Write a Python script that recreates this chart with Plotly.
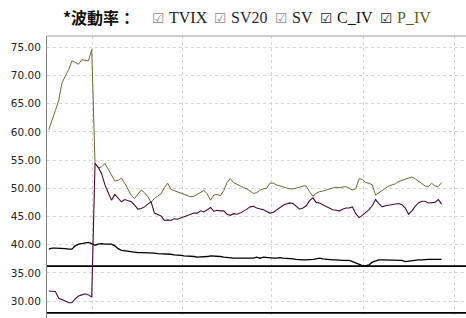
import plotly.graph_objects as go

# ---------------- data ----------------
day = list(range(120))

p_iv = [60.4, 62.0, 63.8, 65.6, 68.7, 69.9, 71.0, 72.6, 72.3, 72.0,
        72.8, 72.7, 72.6, 74.6, 54.4, 53.6, 53.8, 54.4, 53.3, 52.2,
        51.3, 51.4, 51.8, 50.9, 49.9, 48.7, 48.2, 49.0, 49.7, 49.2,
        48.5, 47.5, 48.2, 48.6, 49.0, 50.1, 50.9, 49.8, 49.6, 49.4,
        49.1, 48.9, 48.8, 48.5, 48.6, 48.9, 49.3, 49.6, 49.0, 47.9,
        48.8, 48.9, 48.7, 49.6, 51.0, 51.7, 51.0, 50.7, 50.3, 50.1,
        49.9, 49.5, 49.1, 49.2, 49.7, 49.9, 50.0, 50.9, 50.9, 50.6,
        50.4, 50.3, 50.1, 49.9, 49.9, 50.0, 50.2, 50.4, 50.4, 49.4,
        48.6, 49.1, 49.4, 49.5, 49.7, 49.8, 50.0, 50.2, 50.1, 50.2,
        50.3, 50.0, 49.7, 49.9, 51.7, 51.6, 51.0, 50.9, 50.6, 48.8,
        49.2, 49.6, 50.1, 50.4, 50.6, 50.8, 51.2, 51.4, 51.7, 51.9,
        52.0, 51.7, 51.3, 50.8, 50.4, 50.3, 50.9, 50.4, 50.3, 51.0]

c_iv = [31.8, 31.8, 31.7, 30.5, 30.3, 30.0, 29.7, 29.7, 30.4, 30.9,
        31.1, 31.3, 31.1, 30.7, 54.4, 53.7, 52.6, 50.6, 49.2, 47.9,
        48.9, 48.3, 47.6, 48.0, 47.8, 47.6, 47.0, 46.3, 46.4, 46.7,
        47.2, 47.6, 45.6, 45.3, 45.1, 44.3, 44.4, 44.3, 44.6, 44.5,
        44.7, 44.9, 45.2, 45.4, 45.6, 45.6, 46.0, 45.8, 46.2, 46.6,
        45.9, 46.1, 46.0, 46.0, 45.4, 45.2, 45.5, 45.4, 45.6, 45.9,
        46.3, 46.7, 46.8, 46.5, 46.4, 46.2, 45.9, 45.6, 45.7, 46.1,
        46.5, 47.0, 47.2, 47.4, 47.3, 46.8, 46.3, 46.5, 46.9, 47.8,
        48.3, 47.5, 47.4, 47.1, 46.8, 46.4, 46.2, 46.1, 46.0, 46.3,
        46.5, 46.5, 46.7, 45.5, 44.8, 45.2, 45.7, 46.2, 46.9, 48.0,
        47.3, 46.7, 46.9, 47.0, 47.2, 47.3, 47.3, 47.1, 46.5, 45.4,
        46.0, 46.8, 47.4, 47.7, 47.7, 47.4, 47.4, 47.5, 48.0, 47.2]

sv20 = [39.2, 39.4, 39.4, 39.4, 39.4, 39.3, 39.2, 39.2, 39.8, 40.1,
        40.2, 40.3, 40.4, 40.2, 39.9, 40.1, 40.2, 40.1, 40.1, 40.1,
        39.8, 39.3, 39.0, 38.9, 38.9, 38.8, 38.7, 38.6, 38.6, 38.6,
        38.6, 38.5, 38.5, 38.4, 38.4, 38.3, 38.3, 38.3, 38.2, 38.2,
        38.1, 38.0, 38.0, 37.9, 37.9, 37.8, 37.8, 37.8, 37.9, 38.0,
        38.0, 38.0, 37.9, 37.8, 37.7, 37.6, 37.6, 37.6, 37.6, 37.6,
        37.6, 37.6, 37.6, 37.8, 37.6, 37.8, 37.7, 37.6, 37.6, 37.6,
        37.7, 37.6, 37.6, 37.5, 37.5, 37.4, 37.3, 37.3, 37.3, 37.3,
        37.4, 37.5, 37.6, 37.5, 37.4, 37.4, 37.3, 37.3, 37.2, 37.2,
        37.2, 37.2, 37.0, 36.8, 36.5, 36.3, 36.3, 36.4, 36.9, 37.1,
        37.3, 37.3, 37.3, 37.3, 37.3, 37.3, 37.2, 37.2, 37.0, 37.1,
        37.2, 37.2, 37.3, 37.3, 37.4, 37.4, 37.4, 37.4, 37.4, 37.4]

sv_level = 36.2      # flat black line
tvix_level = 27.9    # flat black line near the bottom

y_ticks = [30, 35, 40, 45, 50, 55, 60, 65, 70, 75]
grid_days = [13.1, 40.4, 67.6, 95.2, 122.8]
x_range = [-0.55, 126.4]
y_range = [27.0, 77.0]

legend_items = ["TVIX", "SV20", "SV", "C_IV", "P_IV"]
legend_label_colors = ["#222222", "#2e2440", "#222222", "#111111", "#5e5e14"]
legend_box_colors = ["#8c8c8c", "#8c8c8c", "#8c8c8c", "#222222", "#222222"]

# ---------------- figure ----------------
W, H = 466, 318
ML, MT = 47, 36
PW, PH = W - ML, H - MT

fig = go.Figure()

fig.add_trace(go.Scatter(x=[x_range[0], x_range[1]], y=[tvix_level, tvix_level],
                         mode="lines", line=dict(color="#000000", width=1.6),
                         showlegend=False, hoverinfo="skip"))
fig.add_trace(go.Scatter(x=[x_range[0], x_range[1]], y=[sv_level, sv_level],
                         mode="lines", line=dict(color="#000000", width=1.6),
                         showlegend=False, hoverinfo="skip"))
fig.add_trace(go.Scatter(x=day, y=sv20, mode="lines",
                         line=dict(color="#000000", width=1.3),
                         showlegend=False))
fig.add_trace(go.Scatter(x=day, y=p_iv, mode="lines",
                         line=dict(color="#6b6b30", width=1.0),
                         showlegend=False))
fig.add_trace(go.Scatter(x=day, y=c_iv, mode="lines",
                         line=dict(color="#4a0a30", width=1.1),
                         showlegend=False))

fig.update_xaxes(range=x_range, showticklabels=False, ticks="",
                 tickmode="array", tickvals=grid_days,
                 showgrid=True, gridcolor="#d4d4d4", griddash="dot", gridwidth=1,
                 zeroline=False, showline=False)
fig.update_yaxes(range=y_range, tickmode="array", tickvals=y_ticks,
                 tickformat=".2f", ticks="", ticklabelstandoff=3,
                 tickfont=dict(family="DejaVu Sans", size=10.5, color="#222222"),
                 showgrid=True, gridcolor="#d4d4d4", griddash="dot", gridwidth=1,
                 zeroline=False, showline=True, linecolor="#808080", linewidth=1)

# top border of the plot
fig.add_shape(type="line", xref="paper", yref="paper", x0=0, x1=1, y0=1, y1=1,
              line=dict(color="#9a9a9a", width=1))


def px_x(px):
    return (px - ML) / PW


def px_y(py):
    return 1 + (MT - py) / PH


ann = []
ann.append(dict(x=px_x(61), y=px_y(17), xref="paper", yref="paper",
                xanchor="left", yanchor="middle", showarrow=False,
                text="<b>*波動率：</b>",
                font=dict(family="Noto Sans CJK TC", size=16, color="#111111")))

box_px = [150, 212, 273, 318, 378]
label_px = [167, 229, 290, 335, 395]
for name, bx, lx, lc, bc in zip(legend_items, box_px, label_px,
                                legend_label_colors, legend_box_colors):
    ann.append(dict(x=px_x(bx), y=px_y(18), xref="paper", yref="paper",
                    xanchor="left", yanchor="middle", showarrow=False,
                    text="☑", font=dict(family="DejaVu Sans", size=14, color=bc)))
    ann.append(dict(x=px_x(lx), y=px_y(17.5), xref="paper", yref="paper",
                    xanchor="left", yanchor="middle", showarrow=False,
                    text=name, font=dict(family="Liberation Serif", size=16, color=lc)))

fig.update_layout(width=W, height=H, margin=dict(l=ML, r=0, t=MT, b=0),
                  paper_bgcolor="white", plot_bgcolor="white",
                  annotations=ann, showlegend=False)

fig.write_html("out.html")
